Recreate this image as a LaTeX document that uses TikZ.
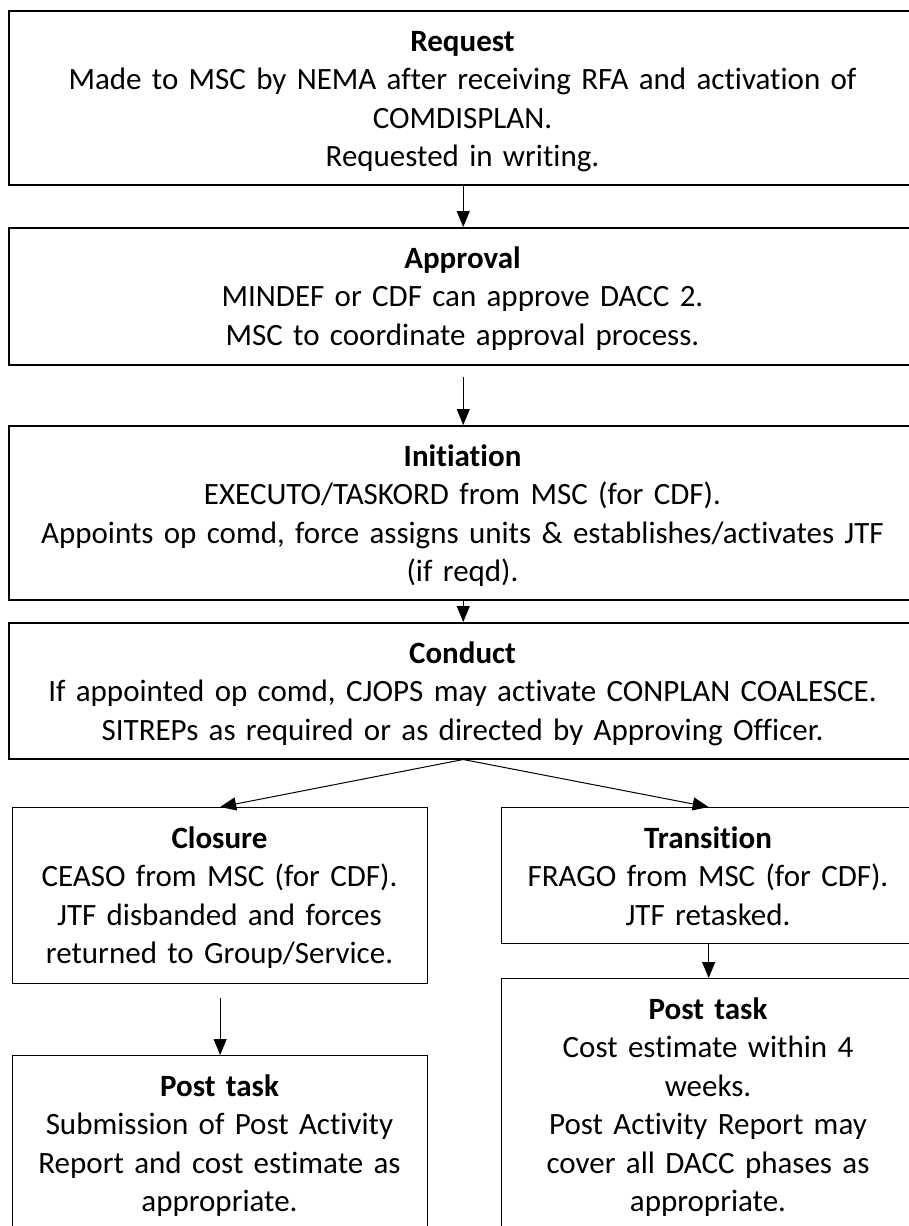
\documentclass[tikz,border=0pt]{standalone}
\usepackage{fontspec}
\setmainfont[Ligatures=NoCommon]{Carlito}
\usetikzlibrary{arrows.meta}
\tikzset{
  box/.style={draw=black, line width=1.5pt, fill=none, inner sep=0pt, anchor=north west},
  smallbox/.style={box, line width=1.3pt},
  txt/.style={anchor=base, align=center, text width=900pt, inner sep=0pt,
    font=\fontsize{31}{38.4}\selectfont},
  arr/.style={draw=black, line width=1pt, -{Triangle[width=13pt,length=16pt]}}
}
\begin{document}
\begin{tikzpicture}[x=1pt,y=-1pt]
\useasboundingbox (0,0) rectangle (909,1226);
\fill[white] (0,0) rectangle (909,1226);
\clip (0,0) rectangle (909,1226);
% boxes
\node[box, minimum width=909pt, minimum height=174pt] (request) at (8,10) {};
\node[box, minimum width=909pt, minimum height=137pt] (approval) at (8,227) {};
\node[box, minimum width=909pt, minimum height=174pt] (initiation) at (8,425) {};
\node[box, minimum width=909pt, minimum height=136pt] (conduct) at (8,622) {};
\node[smallbox, minimum width=415pt, minimum height=176pt] (closure) at (12,807) {};
\node[smallbox, minimum width=414pt, minimum height=136pt] (transition) at (501,807) {};
\node[smallbox, minimum width=415pt, minimum height=200pt] (postleft) at (12,1055) {};
\node[smallbox, minimum width=414pt, minimum height=270pt] (postright) at (501,978) {};
% texts
\node[txt] (request-t) at (462.5,51.5) {\textbf{Request}\\Made to MSC by NEMA after receiving RFA and activation of\\COMDISPLAN.\\Requested in writing.};
\node[txt] (approval-t) at (462.5,268.5) {\textbf{Approval}\\MINDEF or CDF can approve DACC 2.\\MSC to coordinate approval process.};
\node[txt] (initiation-t) at (462.5,466.5) {\textbf{Initiation}\\EXECUTO/TASKORD from MSC (for CDF).\\Appoints op comd, force assigns units \& establishes/activates JTF\\(if reqd).};
\node[txt] (conduct-t) at (462.5,663.5) {\textbf{Conduct}\\If appointed op comd, CJOPS may activate CONPLAN COALESCE.\\SITREPs as required or as directed by Approving Officer.};
\node[txt] (closure-t) at (219.5,848.5) {\textbf{Closure}\\CEASO from MSC (for CDF).\\JTF disbanded and forces\\returned to Group/Service.};
\node[txt] (transition-t) at (708,848.5) {\textbf{Transition}\\FRAGO from MSC (for CDF).\\JTF retasked.};
\node[txt] (postleft-t) at (219.5,1096.5) {\textbf{Post task}\\Submission of Post Activity\\Report and cost estimate as\\appropriate.};
\node[txt] (postright-t) at (708,1019.5) {\textbf{Post task}\\Cost estimate within 4\\weeks.\\Post Activity Report may\\cover all DACC phases as\\appropriate.};
% connectors
\draw[arr] (request.south) -- (approval.north);
\draw[arr, shorten <=11pt] (approval.south) -- (initiation.north);
\draw[arr] (initiation.south) -- (conduct.north);
\draw[arr] (conduct.south) -- (closure.north);
\draw[arr] (conduct.south) -- (transition.north);
\draw[arr] (transition.south) -- (postright.north);
\draw[arr, shorten <=14pt] (closure.south) -- (postleft.north);
\end{tikzpicture}
\end{document}
